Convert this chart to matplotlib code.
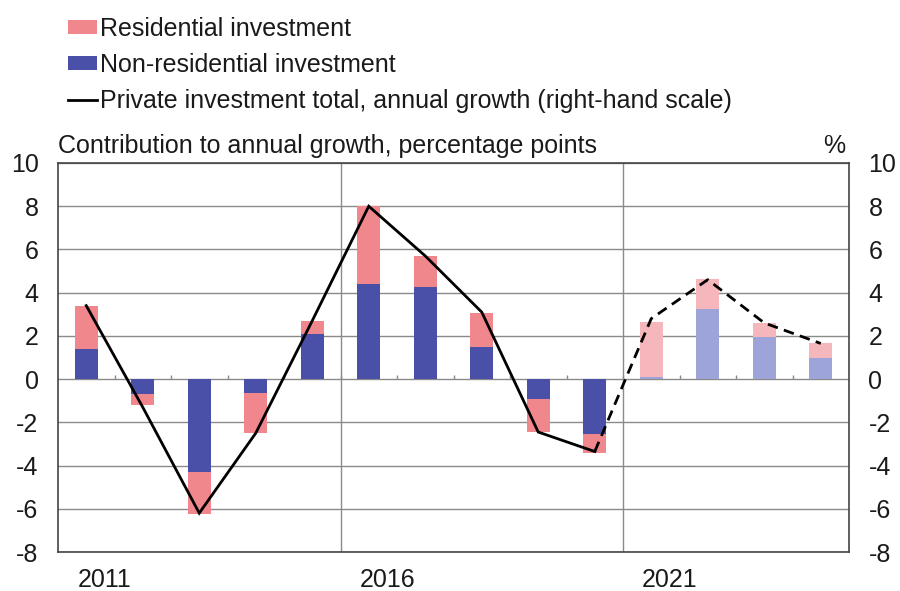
import matplotlib
matplotlib.use('Agg')
import matplotlib.pyplot as plt
from matplotlib.patches import Patch
from matplotlib.lines import Line2D
import numpy as np

plt.rcParams['font.family'] = ['Liberation Sans', 'DejaVu Sans']

years = list(range(2011, 2025))
residential = [2.0, -0.5, -1.93, -1.86, 0.58, 3.64, 1.44, 1.6, -1.5, -0.89, 2.54, 1.38, 0.65, 0.65]
non_residential = [1.4, -0.69, -4.29, -0.62, 2.11, 4.38, 4.27, 1.47, -0.94, -2.52, 0.11, 3.23, 1.93, 1.0]
total_growth = [3.4, -1.3, -6.2, -2.5, 2.7, 8.0, 5.7, 3.1, -2.45, -3.35, 2.8, 4.6, 2.6, 1.65]
forecast_start = 2021
year_labels = ['2011', '2016', '2021']
y_ticks = [-8, -6, -4, -2, 0, 2, 4, 6, 8, 10]

RES = '#F0878D'
RES_F = '#F5B7BB'
NRES = '#4A4FA7'
NRES_F = '#9DA4D9'
FS = 18
TXT = '#1a1a1a'

fig = plt.figure(figsize=(9, 5.91), dpi=100)
ax = fig.add_axes([58/900, 1-552/591, (849-58)/900, (552-163)/591])

x = np.arange(len(years))
is_fc = np.array([y >= forecast_start for y in years])
res_c = [RES_F if f else RES for f in is_fc]
nres_c = [NRES_F if f else NRES for f in is_fc]

ax.bar(x, non_residential, width=0.4, color=nres_c, zorder=3)
ax.bar(x, residential, width=0.4, bottom=non_residential, color=res_c, zorder=3)

# gridlines
for v in y_ticks:
    ax.axhline(v, color='#8a8a8a', lw=1.0, zorder=1)
for yr in ['2016', '2021']:
    i = years.index(int(yr))
    ax.axvline(i - 0.5, color='#8a8a8a', lw=1.0, zorder=1)
# small ticks on zero line
ax.vlines(x[:-1] + 0.5, 0, 0.18, color='#8a8a8a', lw=1.0, zorder=2)

ax.set_xlim(-0.5, len(years) - 0.5)
ax.set_ylim(-8, 10)
ax.set_yticks(y_ticks)
ax.set_yticklabels([str(v) for v in y_ticks], fontsize=FS, color=TXT)
ax.tick_params(axis='y', length=0, pad=14)
ax.set_xticks([])
for s in ax.spines.values():
    s.set_color('#444444')
    s.set_linewidth(1.2)

ax2 = ax.twinx()
ax2.set_ylim(-8, 10)
ax2.set_yticks(y_ticks)
ax2.set_yticklabels([str(v) for v in y_ticks], fontsize=FS, color=TXT)
ax2.tick_params(axis='y', length=0, pad=14)
for s in ax2.spines.values():
    s.set_visible(False)

k = years.index(forecast_start)
ax2.plot(x[:k], total_growth[:k], color='black', lw=2.0, zorder=4, solid_joinstyle='miter')
ax2.plot(x[k-1:], total_growth[k-1:], color='black', lw=2.0, ls=(0, (3.8, 2.3)), zorder=4)

# year labels
for lab in year_labels:
    i = years.index(int(lab))
    ax.text(i + 0.33, -0.072, lab, transform=ax.get_xaxis_transform(),
            ha='center', va='center', fontsize=FS, color=TXT)

ax.text(0, 1.012, 'Contribution to annual growth, percentage points', transform=ax.transAxes,
        ha='left', va='bottom', fontsize=FS, color=TXT)
ax.text(0.995, 1.012, '%', transform=ax.transAxes, ha='right', va='bottom', fontsize=FS, color=TXT)

handles = [Patch(facecolor=RES, edgecolor='none'),
           Patch(facecolor=NRES, edgecolor='none'),
           Line2D([0], [0], color='black', lw=2.0)]
labels = ['Residential investment', 'Non-residential investment',
          'Private investment total, annual growth (right-hand scale)']
fig.legend(handles, labels, loc='upper left', bbox_to_anchor=(68/900, 1 - 17/591),
           frameon=False, fontsize=FS, borderpad=0, borderaxespad=0,
           handlelength=1.17, handleheight=0.5, handletextpad=0.12, labelspacing=0.48,
           labelcolor=TXT)

fig.savefig('out.png', dpi=100)
